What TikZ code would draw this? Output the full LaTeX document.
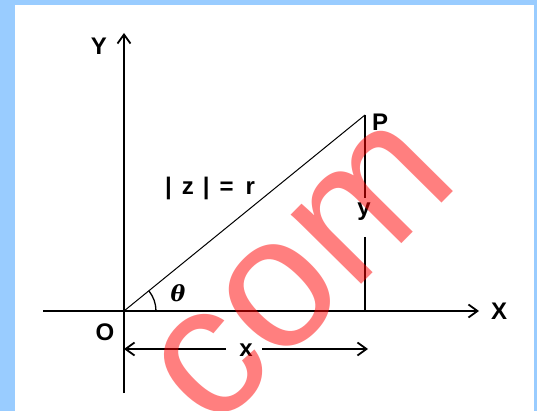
\documentclass[tikz,border=0pt]{standalone}
\usepackage{fontspec}
\setmainfont{Liberation Sans}
\newfontfamily\thetafont{DejaVu Serif}
\usetikzlibrary{arrows.meta}
\definecolor{frameblue}{HTML}{99CCFF}
\begin{document}
\begin{tikzpicture}[x=1pt,y=-1pt,
  lbl/.style={font=\fontsize{24}{24}\selectfont\bfseries, inner sep=0pt},
  axisline/.style={line width=1.8pt},
  tipped/.style={-{Straight Barb[length=9pt,width=13pt,line width=1.8pt]}},
]
\useasboundingbox (0,0) rectangle (537,411);
\fill[frameblue] (0,0) rectangle (537,411);
\fill[white] (15,5) rectangle (534,411);

% points
\coordinate (O) at (124,311);
\coordinate (xs) at (43,311);
\coordinate (xe) at (479,311);
\coordinate (ys) at (124,393);
\coordinate (ye) at (124,33);
\coordinate (P) at (365,115);
\coordinate (Px) at (365,311);
\coordinate (ya) at (365,198);
\coordinate (yb) at (365,237);
\coordinate (xa) at (226,349);
\coordinate (xb) at (262,349);
\coordinate (xL) at (124,349);
\coordinate (xR) at (368,349);

% axes
\draw[axisline,tipped] (xs) -- (xe);
\draw[axisline,tipped] (ys) -- (ye);
% radius
\draw[line width=1pt] (O) -- (P);
% vertical y segment
\draw[axisline] (P) -- (ya);
\draw[axisline] (yb) -- (Px);
% angle arc
\draw[line width=1.3pt] ([shift={(32,0)}]O) arc[start angle=0,end angle=-39,radius=32];
% x dimension arrows
\draw[axisline,tipped] (xa) -- (xL);
\draw[axisline,tipped] (xb) -- (xR);

% labels
\node[lbl] (lY) at (99,46) {Y};
\node[lbl] (lX) at (499,311) {X};
\node[lbl] (lO) at (105,332) {O};
\node[lbl] (lP) at (380,122) {P};
\node[lbl,anchor=base] (ly) at (364,216) {y};
\node[lbl,anchor=base] (lx) at (246,356) {x};
\node[lbl,anchor=base] (lz) at (210,195) {\textbar\hspace{10pt}z\hspace{9pt}\textbar\hspace{10pt}=\hspace{12pt}r};
\node[inner sep=0pt,font=\fontsize{22}{22}\selectfont\thetafont\bfseries\itshape] (lt) at (178,293) {θ};

% watermark
\node[rotate=45.3, anchor=base west, text=red, text opacity=0.5, inner sep=0pt,
      font=\fontsize{187}{187}\selectfont] (wm) at (213,434) {com};
\end{tikzpicture}
\end{document}
